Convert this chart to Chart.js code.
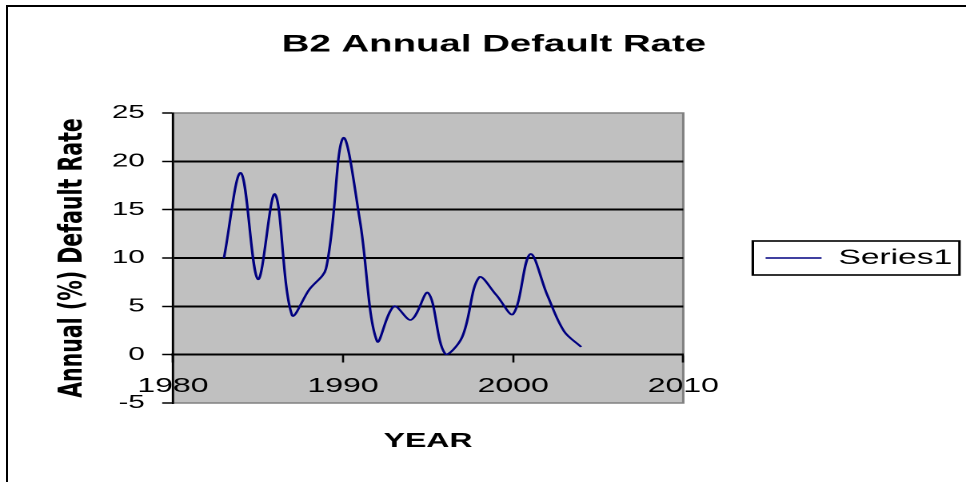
<!DOCTYPE html>
<html>
<head>
<meta charset="utf-8">
<script src="https://cdn.jsdelivr.net/npm/chart.js@4"></script>
<style>
  html, body { margin: 0; padding: 0; background: #fff; width: 966px; height: 482px; overflow: hidden; }
  #frame { position: absolute; left: 6px; top: 5px; width: 1200px; height: 800px; border: 2px solid #000; box-sizing: border-box; }
  /* the chart is laid out on a narrower canvas and widened to the page width */
  #stage { position: absolute; left: 0; top: 0; width: 604px; height: 482px; transform: scaleX(1.5993); transform-origin: 0 0; }
</style>
</head>
<body>
<div id="frame"></div>
<div id="stage"><canvas id="c" width="604" height="482"></canvas></div>
<script>
// Annual default rate of B2-rated issuers, by year
const years = [1983, 1984, 1985, 1986, 1987, 1988, 1989, 1990, 1991, 1992, 1993,
               1994, 1995, 1996, 1997, 1998, 1999, 2000, 2001, 2002, 2003, 2004];
const rates = [10.0, 18.8, 7.8, 16.6, 4.1, 6.7, 8.9, 22.4, 13.8, 1.4, 5.0,
               3.6, 6.4, 0.1, 1.8, 8.0, 6.2, 4.2, 10.4, 6.2, 2.4, 0.8];

const yearTicks = [1980, 1990, 2000, 2010];
const rateTicks = [-5, 0, 5, 10, 15, 20, 25];

const seriesName = 'Series1';
const chartTitle = 'B2 Annual Default Rate';
const xTitle = 'YEAR';
const yTitle = 'Annual (%) Default Rate';

Chart.defaults.font.family = "'Liberation Sans', Arial, sans-serif";
Chart.defaults.color = '#000';

// grey plot area with a thin darker frame
const plotBackground = {
  id: 'plotBackground',
  beforeDraw(chart) {
    const { ctx, chartArea: a } = chart;
    ctx.save();
    ctx.fillStyle = '#C0C0C0';
    ctx.fillRect(a.left, a.top, a.right - a.left, a.bottom - a.top);
    ctx.strokeStyle = '#808080';
    ctx.lineWidth = 1.5;
    ctx.strokeRect(a.left, a.top, a.right - a.left, a.bottom - a.top);
    ctx.restore();
  }
};

// box drawn around the legend entry
const legendFrame = {
  id: 'legendFrame',
  afterDraw(chart) {
    const hb = chart.legend && chart.legend.legendHitBoxes[0];
    if (!hb) return;
    const ctx = chart.ctx;
    ctx.save();
    ctx.strokeStyle = '#000';
    ctx.lineWidth = 1.6;
    const cy = hb.top + hb.height / 2;
    ctx.strokeRect(hb.left - 8, cy - 17, hb.width + 12.5, 34);
    ctx.restore();
  }
};

new Chart(document.getElementById('c'), {
  type: 'line',
  data: {
    datasets: [{
      label: seriesName,
      data: years.map((yr, i) => ({ x: yr, y: rates[i] })),
      borderColor: '#000080',
      backgroundColor: '#000080',
      borderWidth: 1.6,
      pointRadius: 0,
      tension: 0.35,
      fill: false
    }]
  },
  options: {
    responsive: false,
    devicePixelRatio: 2,
    animation: false,
    layout: { padding: { left: 22.2, right: 8.6, top: 0, bottom: 79 } },
    scales: {
      x: {
        type: 'linear',
        min: 1980,
        max: 2010,
        position: { y: 0 },
        afterBuildTicks: s => { s.ticks = yearTicks.map(v => ({ value: v })); },
        ticks: {
          callback: v => String(v),
          font: { size: 20 },
          color: '#000',
          padding: 13,
          maxRotation: 0,
          autoSkip: false
        },
        grid: { drawOnChartArea: false, drawTicks: true, tickLength: 7, tickColor: '#000', tickWidth: 1.3 },
        border: { display: true, color: '#000', width: 2 },
        title: {
          display: true,
          text: xTitle,
          font: { size: 20, weight: 'bold' },
          color: '#000',
          padding: { top: 18, bottom: 0 }
        }
      },
      y: {
        type: 'linear',
        min: -5,
        max: 25,
        afterBuildTicks: s => { s.ticks = rateTicks.map(v => ({ value: v })); },
        afterFit: s => { s.width = 85.9; },
        ticks: { font: { size: 18.5 }, color: '#000', padding: 10.8 },
        grid: {
          color: c => (c.tick && (c.tick.value === 25 || c.tick.value === -5)) ? 'rgba(0,0,0,0)' : '#000',
          lineWidth: 2,
          drawTicks: true,
          tickLength: 6.7,
          tickColor: '#000',
          tickWidth: 1.5
        },
        border: { display: true, color: '#000', width: 1.3 },
        title: {
          display: true,
          text: yTitle,
          font: { family: "'DejaVu Sans', sans-serif", size: 20.5, weight: 'bold' },
          color: '#000',
          padding: { top: 11.1, bottom: 0 }
        }
      }
    },
    plugins: {
      title: {
        display: true,
        text: chartTitle,
        font: { size: 24, weight: 'bold' },
        color: '#000',
        padding: { top: 30.6, bottom: 53.6 }
      },
      legend: {
        position: 'right',
        fullSize: false,
        align: 'center',
        maxWidth: 168.2,
        labels: {
          usePointStyle: true,
          pointStyle: 'line',
          pointStyleWidth: 35,
          padding: 51.5,
          font: { size: 21 },
          color: '#000'
        }
      },
      tooltip: { enabled: false }
    }
  },
  plugins: [plotBackground, legendFrame]
});
</script>
</body>
</html>
